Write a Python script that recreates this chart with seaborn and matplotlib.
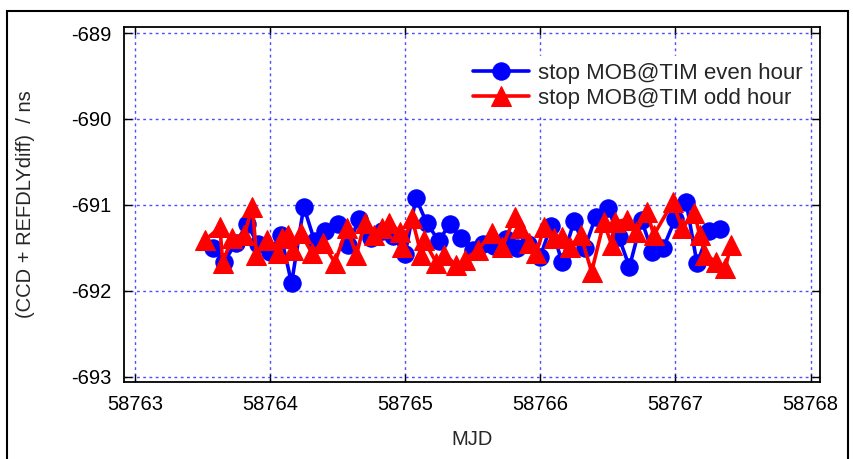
import matplotlib
matplotlib.use("Agg")
import matplotlib.pyplot as plt
from matplotlib.patches import Rectangle
import seaborn as sns
import pandas as pd

# ---- data ----
even_mjd = [58763.58, 58763.66, 58763.75, 58763.83, 58763.91, 58764.00, 58764.08, 58764.16,
            58764.25, 58764.33, 58764.41, 58764.50, 58764.58, 58764.66, 58764.75, 58764.83,
            58764.91, 58765.00, 58765.08, 58765.16, 58765.25, 58765.33, 58765.41, 58765.50,
            58765.58, 58765.66, 58765.75, 58765.83, 58765.91, 58766.00, 58766.08, 58766.16,
            58766.25, 58766.33, 58766.41, 58766.50, 58766.58, 58766.66, 58766.75, 58766.83,
            58766.91, 58767.00, 58767.08, 58767.16, 58767.25, 58767.33]
even_val = [-691.50, -691.66, -691.44, -691.22, -691.45, -691.55, -691.35, -691.91,
            -691.02, -691.42, -691.30, -691.22, -691.47, -691.16, -691.38, -691.30,
            -691.36, -691.57, -690.92, -691.21, -691.42, -691.22, -691.38, -691.52,
            -691.46, -691.48, -691.40, -691.50, -691.45, -691.60, -691.24, -691.66,
            -691.19, -691.50, -691.14, -691.03, -691.37, -691.72, -691.18, -691.55,
            -691.50, -691.16, -690.97, -691.68, -691.30, -691.28]

odd_mjd = [58763.52, 58763.63, 58763.65, 58763.72, 58763.81, 58763.87, 58763.90, 58763.98,
           58764.06, 58764.09, 58764.13, 58764.17, 58764.23, 58764.31, 58764.39, 58764.48,
           58764.57, 58764.64, 58764.70, 58764.77, 58764.83, 58764.88, 58764.96, 58764.98,
           58765.05, 58765.12, 58765.14, 58765.23, 58765.29, 58765.38, 58765.44, 58765.54,
           58765.64, 58765.72, 58765.81, 58765.85, 58765.92, 58765.97, 58766.03, 58766.10,
           58766.16, 58766.22, 58766.30, 58766.38, 58766.47, 58766.53, 58766.55, 58766.64,
           58766.71, 58766.79, 58766.84, 58766.98, 58767.05, 58767.14, 58767.18, 58767.22,
           58767.30, 58767.37, 58767.41]
odd_val = [-691.41, -691.26, -691.67, -691.38, -691.35, -691.02, -691.58, -691.41,
           -691.56, -691.38, -691.35, -691.52, -691.33, -691.56, -691.44, -691.67,
           -691.27, -691.58, -691.21, -691.35, -691.27, -691.21, -691.31, -691.49,
           -691.15, -691.58, -691.41, -691.67, -691.58, -691.70, -691.64, -691.52,
           -691.33, -691.49, -691.14, -691.27, -691.44, -691.56, -691.26, -691.38,
           -691.37, -691.49, -691.35, -691.78, -691.20, -691.47, -691.20, -691.17,
           -691.31, -691.08, -691.35, -690.97, -691.27, -691.09, -691.35, -691.58,
           -691.66, -691.73, -691.47]

x_ticks = [58763, 58764, 58765, 58766, 58767, 58768]
y_ticks = [-693, -692, -691, -690, -689]
labels = ["stop MOB@TIM even hour", "stop MOB@TIM odd hour"]

# ---- style ----
sns.set_style("white")
plt.rcParams['font.family'] = ['Liberation Sans', 'DejaVu Sans']

fig = plt.figure(figsize=(8.54, 4.59), dpi=100)
ax = fig.add_axes([124 / 854, 1 - 382 / 459, (820 - 124) / 854, (382 - 27) / 459])

df_even = pd.DataFrame({"MJD": even_mjd, "val": even_val})
df_odd = pd.DataFrame({"MJD": odd_mjd, "val": odd_val})

sns.lineplot(data=df_even, x="MJD", y="val", ax=ax, color="#0000FF", linewidth=2.6,
             marker="o", markersize=12.5, markeredgecolor="#0000FF", sort=False,
             estimator=None, label=labels[0], zorder=3)
sns.lineplot(data=df_odd, x="MJD", y="val", ax=ax, color="#FF0000", linewidth=2.6,
             marker="^", markersize=14, markeredgecolor="#FF0000", sort=False,
             estimator=None, label=labels[1], zorder=4)

ax.set_xlim(58762.92, 58768.07)
ax.set_ylim(-693.06, -688.93)
ax.set_xticks(x_ticks)
ax.set_yticks(y_ticks)
ax.set_xticklabels([str(t) for t in x_ticks])
ax.set_yticklabels([str(t) for t in y_ticks])

ax.grid(True, color="#2020FF", linestyle=(0, (2.0, 2.5)), linewidth=1.0, alpha=0.8)
ax.set_axisbelow(True)
for s in ax.spines.values():
    s.set_visible(True)
    s.set_color("black")
    s.set_linewidth(1.3)

ax.tick_params(axis="both", which="both", direction="in", top=True, right=True,
               bottom=True, left=True, length=6, width=1.0, labelsize=14.5,
               colors="black", pad=9)
ax.set_xlabel("MJD", fontsize=14.5, labelpad=12)
ax.set_ylabel("(CCD + REFDLYdiff)  / ns", fontsize=14.5, labelpad=26)

leg = ax.legend(loc="upper right", bbox_to_anchor=(1.0, 0.95), fontsize=16,
                frameon=True, facecolor="white", edgecolor="white", framealpha=1,
                handlelength=2.5, handletextpad=0.4, borderpad=0.3, labelspacing=0.2,
                fancybox=False)

fig.patches.append(Rectangle((7 / 854, -0.02), (848 - 7) / 854, 1 - 11 / 459 + 0.02,
                             transform=fig.transFigure, fill=False, edgecolor="black",
                             linewidth=1.5, zorder=0))

fig.savefig("out.png", dpi=100)
